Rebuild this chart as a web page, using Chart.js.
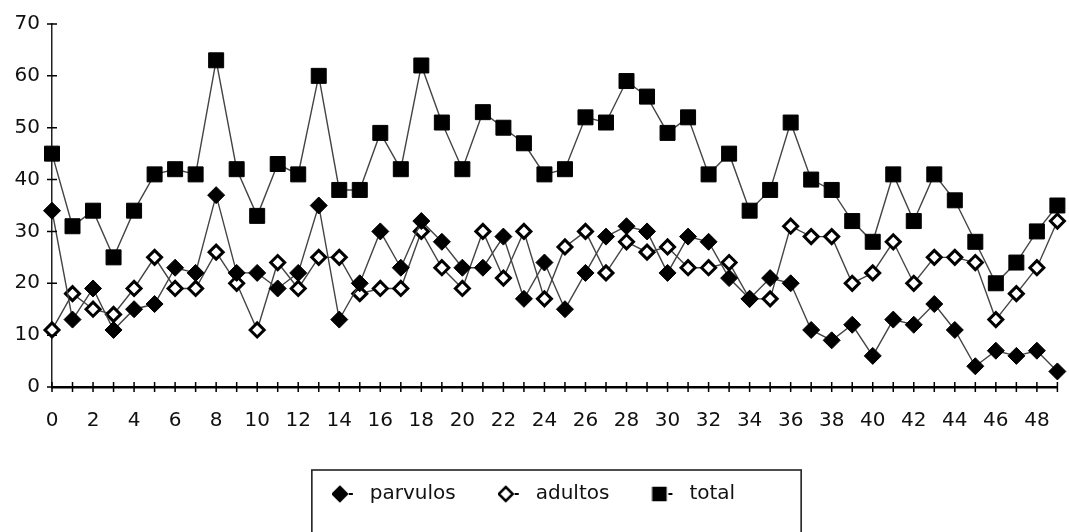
<!DOCTYPE html>
<html>
<head>
<meta charset="utf-8">
<script src="https://cdn.jsdelivr.net/npm/chart.js@4.4.1/dist/chart.umd.min.js"></script>
<style>
  html, body { margin: 0; padding: 0; background: #fff; }
  #wrap { width: 1069px; height: 532px; position: relative; }
</style>
</head>
<body>
<div id="wrap"><canvas id="grafico"></canvas></div>
<script>
// Datos
const semanas = ['0','1','2','3','4','5','6','7','8','9','10','11','12','13','14','15','16','17','18','19',
                 '20','21','22','23','24','25','26','27','28','29','30','31','32','33','34','35','36','37','38','39',
                 '40','41','42','43','44','45','46','47','48','49'];

const parvulos = [34,13,19,11,15,16,23,22,37,22, 22,19,22,35,13,20,30,23,32,28,
                  23,23,29,17,24,15,22,29,31,30, 22,29,28,21,17,21,20,11,9,12,
                  6,13,12,16,11,4,7,6,7,3];

const adultos = [11,18,15,14,19,25,19,19,26,20, 11,24,19,25,25,18,19,19,30,23,
                 19,30,21,30,17,27,30,22,28,26, 27,23,23,24,17,17,31,29,29,20,
                 22,28,20,25,25,24,13,18,23,32];

const total = [45,31,34,25,34,41,42,41,63,42, 33,43,41,60,38,38,49,42,62,51,
               42,53,50,47,41,42,52,51,59,56, 49,52,41,45,34,38,51,40,38,32,
               28,41,32,41,36,28,20,24,30,35];

const FUENTE = 'DejaVu Sans';

// Iconos de la leyenda: marcador + guión corto
function icono(forma, relleno) {
    const c = document.createElement('canvas');
    c.width = 28; c.height = 20;
    const g = c.getContext('2d');
    g.strokeStyle = '#000';
    g.fillStyle = relleno;
    g.lineWidth = 2.5;
    g.beginPath();
    if (forma === 'diamante') {
        g.moveTo(8, 3); g.lineTo(15, 10); g.lineTo(8, 17); g.lineTo(1, 10); g.closePath();
    } else {
        g.rect(2, 4, 12, 12);
    }
    g.fill();
    g.stroke();
    g.fillStyle = '#000';
    g.fillRect(17, 9, 4, 2);
    return c;
}
const iconos = [icono('diamante', '#000'), icono('diamante', '#fff'), icono('cuadro', '#000')];

// Marcas de graduación que cruzan los ejes + recuadro de la leyenda
const marcasEjes = {
    id: 'marcasEjes',
    afterDraw(chart) {
        const ctx = chart.ctx;
        const x = chart.scales.x, y = chart.scales.y;
        ctx.save();
        ctx.strokeStyle = '#000';
        ctx.lineWidth = 1.5;
        ctx.beginPath();
        x.ticks.forEach((t, i) => {
            const px = x.getPixelForTick(i);
            ctx.moveTo(px, y.bottom - 5);
            ctx.lineTo(px, y.bottom + 5);
        });
        y.ticks.forEach(t => {
            const py = y.getPixelForValue(t.value);
            ctx.moveTo(x.left - 5, py);
            ctx.lineTo(x.left + 5, py);
        });
        ctx.stroke();

        const cajas = chart.legend.legendHitBoxes;
        if (cajas && cajas.length) {
            const primera = cajas[0], ultima = cajas[cajas.length - 1];
            const centro = primera.top + primera.height / 2;
            ctx.lineWidth = 1.6;
            ctx.strokeStyle = '#222';
            ctx.strokeRect(primera.left - 20, centro - 24, (ultima.left + ultima.width + 66) - (primera.left - 20), 90);
        }
        ctx.restore();
    }
};

function serie(nombre, datos, estilo, radio, fondo, borde) {
    return {
        label: nombre,
        data: datos,
        borderColor: '#444',
        borderWidth: 1.4,
        pointStyle: estilo,
        pointRadius: radio,
        pointHoverRadius: radio,
        pointBackgroundColor: fondo,
        pointBorderColor: '#000',
        pointBorderWidth: borde,
        tension: 0,
        clip: false
    };
}

new Chart(document.getElementById('grafico'), {
    type: 'line',
    data: {
        labels: semanas,
        datasets: [
            serie('parvulos', parvulos, 'rectRot', 8.5, '#000', 1),
            serie('adultos', adultos, 'rectRot', 7, '#fff', 3),
            serie('total', total, 'rect', 10.6, '#000', 1)
        ]
    },
    options: {
        responsive: true,
        maintainAspectRatio: false,
        animation: false,
        layout: { padding: { top: 18, right: 2, left: 0, bottom: 18 } },
        plugins: {
            tooltip: { enabled: false },
            legend: {
                position: 'bottom',
                labels: {
                    usePointStyle: true,
                    pointStyleWidth: 28,
                    padding: 42,
                    color: '#111',
                    font: { family: FUENTE, size: 20 },
                    generateLabels: chart => chart.data.datasets.map((ds, i) => ({
                        text: ds.label,
                        pointStyle: iconos[i],
                        datasetIndex: i,
                        hidden: false,
                        lineWidth: 0,
                        fontColor: '#111'
                    }))
                }
            }
        },
        scales: {
            x: {
                type: 'category',
                offset: false,
                afterFit: s => { s.height = 55; s.paddingLeft = 0; s.paddingRight = 0; },
                grid: { display: false, drawTicks: false },
                border: { display: true, color: '#000', width: 2.5 },
                ticks: {
                    autoSkip: false,
                    maxRotation: 0,
                    padding: 22,
                    color: '#111',
                    font: { family: FUENTE, size: 20 },
                    callback: (v, i) => (i % 2 === 0 ? semanas[i] : '')
                }
            },
            y: {
                min: 0,
                max: 70,
                afterFit: s => { s.width = 52; },
                grid: { display: false, drawTicks: false },
                border: { display: true, color: '#222', width: 1.5 },
                ticks: {
                    stepSize: 10,
                    padding: 12,
                    color: '#111',
                    font: { family: FUENTE, size: 20 }
                }
            }
        }
    },
    plugins: [marcasEjes]
});
</script>
</body>
</html>
